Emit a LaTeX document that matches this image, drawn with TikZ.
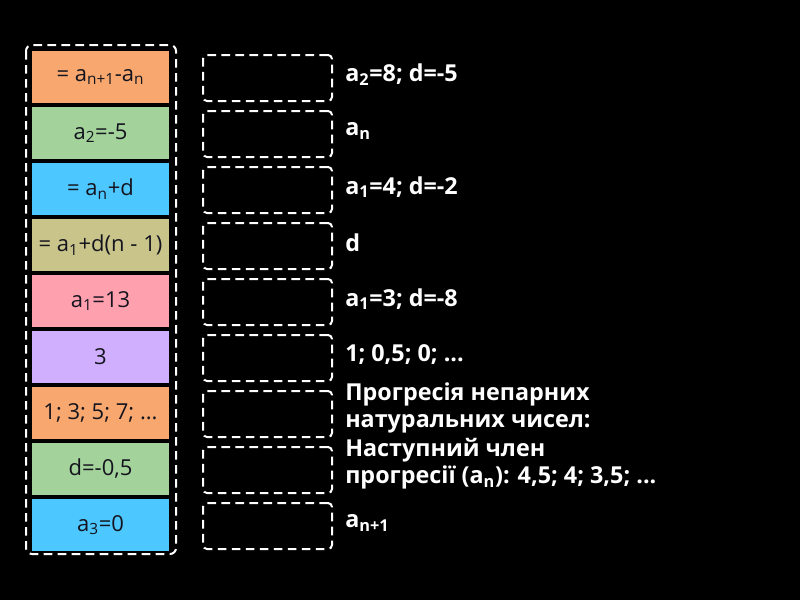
\documentclass[tikz,border=0pt]{standalone}
\usepackage{fontspec}
\setmainfont{Open Sans}
\definecolor{cardorange}{RGB}{248,168,110}
\definecolor{cardgreen}{RGB}{163,210,155}
\definecolor{cardblue}{RGB}{77,199,255}
\definecolor{cardolive}{RGB}{201,196,137}
\definecolor{cardpink}{RGB}{255,160,174}
\definecolor{cardpurple}{RGB}{208,175,255}
\definecolor{cardtext}{RGB}{20,20,30}
\tikzset{
  card/.style={fill=#1, minimum width=102.75pt, minimum height=39pt, inner sep=0pt, text=cardtext, font=\fontsize{16.5}{20}\selectfont},
  slotbox/.style={draw=white, line width=1.5pt, dash pattern=on 6.5pt off 4pt, rounded corners=3pt, minimum width=96.75pt, minimum height=34.5pt, inner sep=0pt},
  cluetext/.style={anchor=west, text=white, align=left, inner sep=0pt, font=\bfseries\fontsize{17.5}{20.5}\selectfont}
}
\newcommand{\sub}[1]{\textsubscript{#1}}
\begin{document}
\begin{tikzpicture}[x=0.75pt, y=-0.75pt]
  \fill[black] (0,0) rectangle (800,600);
  \useasboundingbox (0,0) rectangle (800,600);
  % cards
  \draw[white, line width=1.5pt, dash pattern=on 6.5pt off 4pt, rounded corners=4.5pt] (26,45) rectangle (176,554);
  \node[card=cardorange] (c1) at (100.5,77) {= a\sub{n+1}-a\sub{n}};
  \node[card=cardgreen] (c2) at (100.5,133) {a\sub{2}=-5};
  \node[card=cardblue] (c3) at (100.5,189) {= a\sub{n}+d};
  \node[card=cardolive] (c4) at (100.5,245) {= a\sub{1}+d(n - 1)};
  \node[card=cardpink] (c5) at (100.5,301) {a\sub{1}=13};
  \node[card=cardpurple] (c6) at (100.5,357) {3};
  \node[card=cardorange] (c7) at (100.5,413) {1; 3; 5; 7; ...};
  \node[card=cardgreen] (c8) at (100.5,469) {d=-0,5};
  \node[card=cardblue] (c9) at (100.5,525) {a\sub{3}=0};
  % slots
  \node[slotbox] (s1) at (267.5,78) {};
  \node[slotbox] (s2) at (267.5,134) {};
  \node[slotbox] (s3) at (267.5,190) {};
  \node[slotbox] (s4) at (267.5,246) {};
  \node[slotbox] (s5) at (267.5,302) {};
  \node[slotbox] (s6) at (267.5,358) {};
  \node[slotbox] (s7) at (267.5,414) {};
  \node[slotbox] (s8) at (267.5,470) {};
  \node[slotbox] (s9) at (267.5,526) {};
  % clues
  \node[cluetext] (t1) at (345,75) {a\sub{2}=8; d=-5};
  \node[cluetext] (t2) at (345,131) {a\sub{n}};
  \node[cluetext] (t3) at (345,187) {a\sub{1}=4; d=-2};
  \node[cluetext] (t4) at (345,243) {d};
  \node[cluetext] (t5) at (345,299) {a\sub{1}=3; d=-8};
  \node[cluetext] (t6) at (345,355) {1; 0,5; 0; ...};
  \node[cluetext] (t7) at (345,408) {Прогресія непарних\\натуральних чисел:};
  \node[cluetext] (t8) at (345,464) {Наступний член\\прогресії (a\sub{n}): 4,5; 4; 3,5; ...};
  \node[cluetext] (t9) at (345,523) {a\sub{n+1}};
\end{tikzpicture}
\end{document}
